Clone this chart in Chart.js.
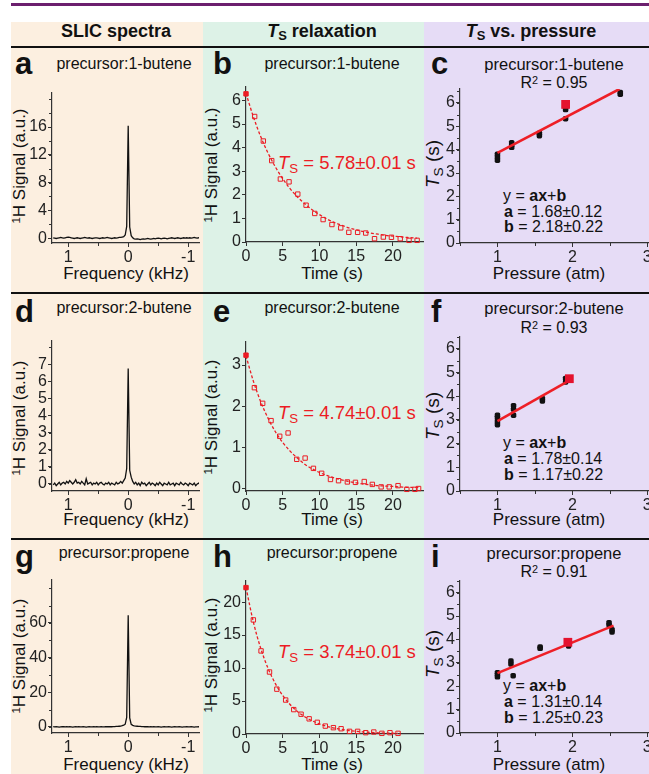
<!DOCTYPE html>
<html>
<head>
<meta charset="utf-8">
<script src="https://cdn.jsdelivr.net/npm/chart.js@4.4.1/dist/chart.umd.min.js"></script>
<style>
  body { margin: 0; width: 649px; height: 774px; position: relative; overflow: hidden; background: #fff;
         font-family: "Liberation Sans", Arial, sans-serif; color: #111; }
  .box { position: absolute; }
  .t { position: absolute; white-space: nowrap; line-height: 1; }
  .sb { font-size: 0.72em; position: relative; top: 0.28em; }
  .sp { font-size: 0.68em; position: relative; top: -0.45em; }
</style>
</head>
<body>
<script>
// ---------- data ----------
// SLIC spectra: frequency grid (kHz), 1.25 down to -1.2
const freq = Array.from({ length: 99 }, (_, i) => +(1.25 - i * 0.025).toFixed(3));
const aSignal = [
  0.05, 0.0, -0.05, 0.0, 0.05, 0.1, 0.05, 0.0, 0.05, 0.1,
  0.15, 0.1, 0.05, 0.0, -0.05, 0.0, 0.05, 0.0, -0.05, 0.0,
  0.05, 0.1, 0.05, 0.0, 0.05, 0.0, -0.05, 0.0, 0.05, 0.05,
  0.0, -0.05, 0.0, 0.05, 0.0, 0.05, 0.1, 0.05, 0.0, -0.05,
  0.0, 0.05, 0.0, 0.05, 0.1, 0.1, 0.15, 0.2, 0.45, 1.7,
  16.2,
  1.6, 0.35, 0.05, -0.1, -0.15, -0.1, -0.15, -0.2, -0.15, -0.1,
  -0.15, -0.1, -0.05, -0.1, -0.15, -0.1, -0.05, -0.1, -0.05, 0.0,
  -0.05, -0.1, -0.05, 0.0, -0.05, -0.1, -0.05, 0.0, 0.05, 0.0,
  -0.05, 0.0, 0.05, 0.0, -0.05, 0.0, 0.05, 0.0, 0.05, 0.0,
  0.05, 0.0, 0.05, 0.1, 0.05, 0.0, 0.05, 0.0
];
const dSignal = [
  -0.05, 0.05, -0.1, 0.0, 0.1, -0.05, 0.05, 0.1, 0.0, 0.15,
  0.05, 0.2, 0.1, 0.0, 0.1, 0.25, 0.05, 0.1, 0.0, 0.15,
  0.05, -0.05, 0.3, 0.0, 0.05, 0.1, -0.05, 0.05, 0.0, 0.1,
  -0.05, 0.05, 0.1, 0.0, -0.05, 0.05, 0.0, 0.1, -0.05, 0.05,
  0.0, -0.05, 0.1, 0.0, 0.05, 0.15, 0.05, 0.2, 0.35, 0.9,
  6.75,
  0.8, 0.4, 0.15, 0.0, 0.1, -0.05, 0.05, -0.1, 0.1, 0.0,
  0.05, -0.1, 0.0, 0.1, -0.05, 0.05, 0.0, -0.1, 0.05, -0.05,
  0.1, 0.0, -0.1, 0.05, 0.0, -0.05, 0.1, -0.05, 0.0, 0.05,
  -0.1, 0.05, 0.0, -0.05, 0.1, 0.0, -0.05, 0.05, 0.0, -0.1,
  0.05, 0.0, -0.05, 0.05, -0.1, 0.0, 0.05, -0.05
];
const gSignal = [
  0.2, 0, 0.1, 0, -0.1, 0, 0.1, 0.2, 0, 0.1,
  0, 0.1, 0, -0.1, 0, 0.1, 0, 0.1, 0, 0,
  0.1, 0, -0.1, 0, 0.1, 0, 0, 0.1, 0, 0.1,
  0, 0, 0.1, 0, 0, 0.1, 0.2, 0.1, 0.2, 0.1,
  0.2, 0.2, 0.3, 0.3, 0.4, 0.5, 0.7, 1.0, 1.6, 5.5,
  64.5,
  5.2, 1.5, 0.9, 0.6, 0.5, 0.4, 0.3, 0.3, 0.2, 0.2,
  0.1, 0.2, 0.1, 0, 0.1, 0, 0.1, 0, 0, 0.1,
  0, -0.1, 0, 0.1, 0, 0, 0.1, 0, -0.1, 0,
  0.1, 0, 0, 0.1, 0, -0.1, 0, 0, 0.1, 0,
  0, 0.1, 0, -0.1, 0, 0, 0.1, 0
];

// Ts relaxation: measured points and fitted curves
const bTime = [0, 1.18, 2.36, 3.5, 4.68, 5.86, 7.05, 8.18, 9.36, 10.5, 11.7, 12.9, 14.0, 15.2, 16.3, 17.5, 18.7, 19.8, 21.0, 22.2, 23.3];
const bSignal = [6.28, 5.32, 4.28, 3.45, 2.67, 2.55, 2.03, 1.56, 1.21, 0.95, 0.74, 0.60, 0.41, 0.41, 0.38, 0.14, 0.21, 0.20, 0.14, 0.07, 0.07];
const bFitTime = [0, 1, 2, 3, 4, 5, 6, 7, 8, 9, 10, 11, 12, 13, 14, 15, 16, 17, 18, 19, 20, 21, 22, 23.3];
const bFit = [6.30, 5.31, 4.47, 3.77, 3.18, 2.68, 2.26, 1.91, 1.62, 1.37, 1.16, 0.98, 0.83, 0.71, 0.60, 0.52, 0.44, 0.38, 0.33, 0.28, 0.25, 0.22, 0.19, 0.16];

const eTime = [0, 1.14, 2.27, 3.41, 4.59, 5.73, 6.91, 8.05, 9.18, 10.3, 11.5, 12.6, 13.8, 14.9, 16.1, 17.2, 18.4, 19.5, 20.7, 21.9, 23.0, 23.5];
const eSignal = [3.24, 2.45, 2.07, 1.65, 1.27, 1.35, 0.71, 0.74, 0.49, 0.37, 0.22, 0.19, 0.16, 0.15, 0.17, 0.10, 0.04, 0.04, 0.07, -0.02, -0.02, 0.0];
const eFitTime = [0, 1, 2, 3, 4, 5, 6, 7, 8, 9, 10, 11, 12, 13, 14, 15, 16, 17, 18, 19, 20, 21, 22, 23.5];
const eFit = [3.22, 2.61, 2.11, 1.71, 1.38, 1.12, 0.91, 0.74, 0.59, 0.48, 0.39, 0.32, 0.26, 0.21, 0.17, 0.14, 0.11, 0.09, 0.07, 0.06, 0.05, 0.04, 0.03, 0.03];

const hTime = [0, 1.0, 2.05, 3.2, 4.2, 5.4, 6.5, 7.5, 8.6, 9.7, 10.8, 11.9, 12.95, 14.1, 15.2, 16.3, 17.4, 18.5, 19.6, 20.7];
const hSignal = [22.2, 17.3, 12.6, 9.4, 6.8, 5.15, 3.7, 3.0, 2.3, 1.77, 1.2, 0.96, 0.8, 0.4, 0.4, 0.2, 0.3, 0.1, 0.2, 0.1];
const hFitTime = [0, 1, 2, 3, 4, 5, 6, 7, 8, 9, 10, 11, 12, 13, 14, 15, 16, 17, 18, 19, 20, 20.7];
const hFit = [22.2, 17.0, 13.0, 9.96, 7.63, 5.84, 4.47, 3.42, 2.62, 2.00, 1.53, 1.17, 0.90, 0.69, 0.53, 0.40, 0.31, 0.24, 0.18, 0.14, 0.11, 0.09];

// Ts vs. pressure
const cPressure = [1.0, 1.0, 1.0, 1.19, 1.19, 1.19, 1.56, 1.56, 1.91, 1.91, 1.91, 2.64, 2.64];
const cTs = [3.55, 3.68, 3.8, 4.1, 4.2, 4.3, 4.6, 4.7, 5.33, 5.72, 5.8, 6.38, 6.45];
const cHighlight = [1.91, 5.94];
const cFitP = [1.0, 2.63];
const cFitTs = [3.86, 6.6];

const fPressure = [1.0, 1.0, 1.0, 1.0, 1.215, 1.215, 1.215, 1.6, 1.6, 1.91, 1.91];
const fTs = [2.8, 2.95, 3.1, 3.2, 3.2, 3.45, 3.6, 3.8, 3.9, 4.6, 4.75];
const fHighlight = [1.96, 4.74];
const fFitP = [1.0, 1.98];
const fFitTs = [2.95, 4.7];

const iPressure = [1.0, 1.0, 1.0, 1.18, 1.18, 1.21, 1.57, 1.57, 1.95, 1.95, 2.49, 2.49, 2.53, 2.53];
const iTs = [2.4, 2.5, 2.58, 2.95, 3.08, 2.45, 3.62, 3.68, 3.72, 3.8, 4.62, 4.72, 4.32, 4.42];
const iHighlight = [1.94, 3.88];
const iFitP = [1.0, 2.55];
const iFitTs = [2.56, 4.59];

// tick labels
const spectraXTicks = [1, 0, -1];
const aYTicks = [0, 4, 8, 12, 16];
const dYTicks = [0, 1, 2, 3, 4, 5, 6, 7];
const gYTicks = [0, 20, 40, 60];
const timeTicks = [0, 5, 10, 15, 20];
const bYTicks = [0, 1, 2, 3, 4, 5, 6];
const eYTicks = [0, 1, 2, 3];
const hYTicks = [0, 5, 10, 15, 20];
const pressureTicks = [1, 2, 3];
const tsTicks = [0, 1, 2, 3, 4, 5, 6];

// ---------- helpers ----------
const FONT = '"Liberation Sans", Arial, sans-serif';
const AXIS = '#333';
const RED = '#ec1c24';

function rect(l, t, w, h, color) {
  const d = document.createElement('div');
  d.className = 'box';
  d.style.cssText = `left:${l}px;top:${t}px;width:${w}px;height:${h}px;background:${color}`;
  document.body.appendChild(d);
}

// text placed by baseline; align 'c' (center) or 'l' (left)
function put(html, x, base, size, o = {}) {
  const d = document.createElement('div');
  d.className = 't';
  d.innerHTML = html;
  d.style.fontSize = size + 'px';
  d.style.left = x + 'px';
  d.style.top = (base - 0.85 * size) + 'px';
  if (o.bold) d.style.fontWeight = 'bold';
  if (o.color) d.style.color = o.color;
  if (o.align !== 'l') d.style.transform = 'translateX(-50%)';
  document.body.appendChild(d);
}

// rotated y-axis title, placed by its center
function ytitle(html, x, y, size) {
  const d = document.createElement('div');
  d.className = 't';
  d.innerHTML = html;
  d.style.fontSize = size + 'px';
  d.style.left = x + 'px';
  d.style.top = y + 'px';
  d.style.transform = 'translate(-50%,-50%) rotate(-90deg)';
  document.body.appendChild(d);
}

const minorTicks = {
  id: 'minorTicks',
  afterDraw(chart, args, opts) {
    const ctx = chart.ctx;
    ctx.save();
    ctx.strokeStyle = AXIS;
    ctx.lineWidth = 1;
    ['x', 'y'].forEach(k => {
      const step = opts[k];
      if (!step) return;
      const s = chart.scales[k];
      for (let v = Math.ceil(s.min / step) * step; v <= s.max + 1e-9; v += step) {
        const p = Math.round(s.getPixelForValue(v)) + 0.5;
        ctx.beginPath();
        if (k === 'x') { ctx.moveTo(p, s.top); ctx.lineTo(p, s.top + 3); }
        else { ctx.moveTo(s.right, p); ctx.lineTo(s.right - 3, p); }
        ctx.stroke();
      }
    });
    ctx.restore();
  }
};

function axis(o) {
  return {
    type: 'linear', min: o.min, max: o.max, reverse: !!o.reverse,
    afterBuildTicks: s => { s.ticks = o.ticks.map(v => ({ value: v })); },
    grid: { drawOnChartArea: false, drawTicks: true, tickLength: 4, color: AXIS, lineWidth: 1 },
    border: { display: true, color: AXIS, width: 1.2 },
    ticks: { color: '#222', font: { family: FONT, size: 16 }, padding: 1, autoSkip: false, maxRotation: 0 }
  };
}

function pts(xs, ys) { return xs.map((x, i) => ({ x, y: ys[i] })); }

function panel(box, xo, yo, datasets, minor) {
  const padL = 40, padT = 12, padR = 12, padB = 30;
  const w = (box.r - box.l) + padL + padR, h = (box.b - box.t) + padT + padB;
  const c = document.createElement('canvas');
  c.width = w; c.height = h;
  c.style.cssText = `position:absolute;left:${box.l - padL}px;top:${box.t - padT}px;width:${w}px;height:${h}px`;
  document.body.appendChild(c);
  const sx = axis(xo), sy = axis(yo);
  sx.afterFit = s => { s.height = padB; };
  sy.afterFit = s => { s.width = padL; };
  new Chart(c, {
    type: 'scatter',
    data: { datasets },
    options: {
      responsive: false, animation: false, events: [],
      layout: { padding: { left: 0, top: padT, right: padR, bottom: 0 } },
      scales: { x: sx, y: sy },
      plugins: { legend: { display: false }, tooltip: { enabled: false }, minorTicks: minor }
    },
    plugins: [minorTicks]
  });
}

function spectrum(values) {
  return [{ data: pts(freq, values), showLine: true, borderColor: '#111', borderWidth: 1.3, pointRadius: 0 }];
}

function relaxation(t, v, ft, fv) {
  return [
    { data: pts(t, v), pointStyle: 'rect', pointRadius: 3.1, borderWidth: 1, borderColor: RED,
      backgroundColor: c => c.dataIndex === 0 ? RED : 'rgba(0,0,0,0)', clip: false },
    { data: pts(ft, fv), showLine: true, borderColor: RED, borderWidth: 1.3, borderDash: [3, 2],
      pointRadius: 0, cubicInterpolationMode: 'monotone' }
  ];
}

function pressure(p, ts, hl, fp, fts) {
  return [
    { data: [{ x: hl[0], y: hl[1] }], pointStyle: 'rect', pointRadius: 6.2, backgroundColor: '#e4122e',
      borderColor: '#e4122e', borderWidth: 0, clip: false },
    { data: pts(fp, fts), showLine: true, borderColor: '#ee1f26', borderWidth: 2.6, pointRadius: 0 },
    { data: pts(p, ts), pointStyle: 'rectRounded', pointRadius: 3.2, backgroundColor: '#111', borderWidth: 0 }
  ];
}

// ---------- background ----------
rect(11, 3, 638, 3, '#6c1f6e');
rect(11, 22, 192, 752, '#fcefe0');
rect(203, 22, 221, 752, '#ddf2e7');
rect(424, 22, 225, 752, '#e6dcf6');
[46, 292, 538].forEach(y => rect(11, y, 638, 2, '#111'));

const TS = '<i>T</i><span class="sb">S</span>';
put('SLIC spectra', 116, 37, 18, { bold: true });
put(TS + ' relaxation', 322, 37, 18, { bold: true });
put(TS + ' vs. pressure', 531, 37, 18, { bold: true });

// ---------- panels ----------
const rows = [
  { letters: ['a', 'b', 'c'], lb: 74, tb: 70, rb: 89, xb: 279, yc: 166,
    ann: [202, 217.5, 233], tsb: 170,
    title: ['precursor:1-butene', 'precursor:1-butene', 'precursor:1-butene'],
    r2: '0.95', ts: '5.78±0.01', fa: '1.68±0.12', fb: '2.18±0.22' },
  { letters: ['d', 'e', 'f'], lb: 322, tb: 314, rb: 334, xb: 525, yc: 418,
    ann: [449, 465, 481], tsb: 420,
    title: ['precursor:2-butene', 'precursor:2-butene', 'precursor:2-butene'],
    r2: '0.93', ts: '4.74±0.01', fa: '1.78±0.14', fb: '1.17±0.22' },
  { letters: ['g', 'h', 'i'], lb: 567, tb: 559, rb: 578, xb: 770, yc: 656,
    ann: [692, 708, 724], tsb: 659,
    title: ['precursor:propene', 'precursor:propene', 'precursor:propene'],
    r2: '0.91', ts: '3.74±0.01', fa: '1.31±0.14', fb: '1.25±0.23' }
];

rows.forEach(r => {
  put(r.letters[0], 15, r.lb, 31, { bold: true, align: 'l' });
  put(r.letters[1], 213, r.lb, 31, { bold: true, align: 'l' });
  put(r.letters[2], 431, r.lb, 31, { bold: true, align: 'l' });
  put(r.title[0], 124, r.tb, 16);
  put(r.title[1], 332, r.tb, 16);
  put(r.title[2], 554, r.tb, 16.5);
  put('R<span class="sp">2</span> = ' + r.r2, 554, r.rb, 16);
  put('Frequency (kHz)', 126, r.xb, 17);
  put('Time (s)', 332, r.xb, 17);
  put('Pressure (atm)', 549, r.xb, 17);
  ytitle('<span class="sp">1</span>H Signal (a.u.)', 19, r.yc, 17);
  ytitle('<span class="sp">1</span>H Signal (a.u.)', 211, r.yc - 1, 17);
  ytitle(TS + ' (s)', 432, r.yc - 2, 19);
  put(TS + ' = ' + r.ts + ' s', 278, r.tsb, 18.5, { color: RED, align: 'l' });
  put('y = <b>ax</b>+<b>b</b>', 503, r.ann[0], 16, { align: 'l' });
  put('<b>a</b> = ' + r.fa, 504, r.ann[1], 16, { align: 'l' });
  put('<b>b</b> = ' + r.fb, 504, r.ann[2], 16, { align: 'l' });
});

// spectra
panel({ l: 52, t: 93, r: 199, b: 243 }, { min: -1.18, max: 1.27, reverse: true, ticks: spectraXTicks },
  { min: -0.7, max: 20.9, ticks: aYTicks }, spectrum(aSignal), { x: 0.5, y: 2 });
panel({ l: 52, t: 341, r: 199, b: 491 }, { min: -1.18, max: 1.27, reverse: true, ticks: spectraXTicks },
  { min: -0.41, max: 8.35, ticks: dYTicks }, spectrum(dSignal), { x: 0.5, y: 1 });
panel({ l: 52, t: 580, r: 199, b: 733 }, { min: -1.18, max: 1.27, reverse: true, ticks: spectraXTicks },
  { min: -3.5, max: 84.8, ticks: gYTicks }, spectrum(gSignal), { x: 0.5, y: 10 });

// relaxation
panel({ l: 246, t: 87, r: 423, b: 242 }, { min: 0, max: 24.1, ticks: timeTicks },
  { min: 0, max: 6.57, ticks: bYTicks }, relaxation(bTime, bSignal, bFitTime, bFit), {});
panel({ l: 246, t: 342, r: 423, b: 491 }, { min: 0, max: 24.1, ticks: timeTicks },
  { min: -0.06, max: 3.56, ticks: eYTicks }, relaxation(eTime, eSignal, eFitTime, eFit), {});
panel({ l: 246, t: 581, r: 423, b: 734 }, { min: 0, max: 24.1, ticks: timeTicks },
  { min: 0, max: 23.2, ticks: hYTicks }, relaxation(hTime, hSignal, hFitTime, hFit), {});

// pressure
panel({ l: 460, t: 89, r: 651, b: 243 }, { min: 0.5, max: 3.05, ticks: pressureTicks },
  { min: 0, max: 6.6, ticks: tsTicks }, pressure(cPressure, cTs, cHighlight, cFitP, cFitTs), { x: 0.5, y: 0.5 });
panel({ l: 460, t: 337, r: 651, b: 491 }, { min: 0.5, max: 3.05, ticks: pressureTicks },
  { min: 0, max: 6.5, ticks: tsTicks }, pressure(fPressure, fTs, fHighlight, fFitP, fFitTs), { x: 0.5, y: 0.5 });
panel({ l: 460, t: 581, r: 651, b: 733 }, { min: 0.5, max: 3.05, ticks: pressureTicks },
  { min: 0, max: 6.5, ticks: tsTicks }, pressure(iPressure, iTs, iHighlight, iFitP, iFitTs), { x: 0.5, y: 0.5 });
</script>
</body>
</html>
